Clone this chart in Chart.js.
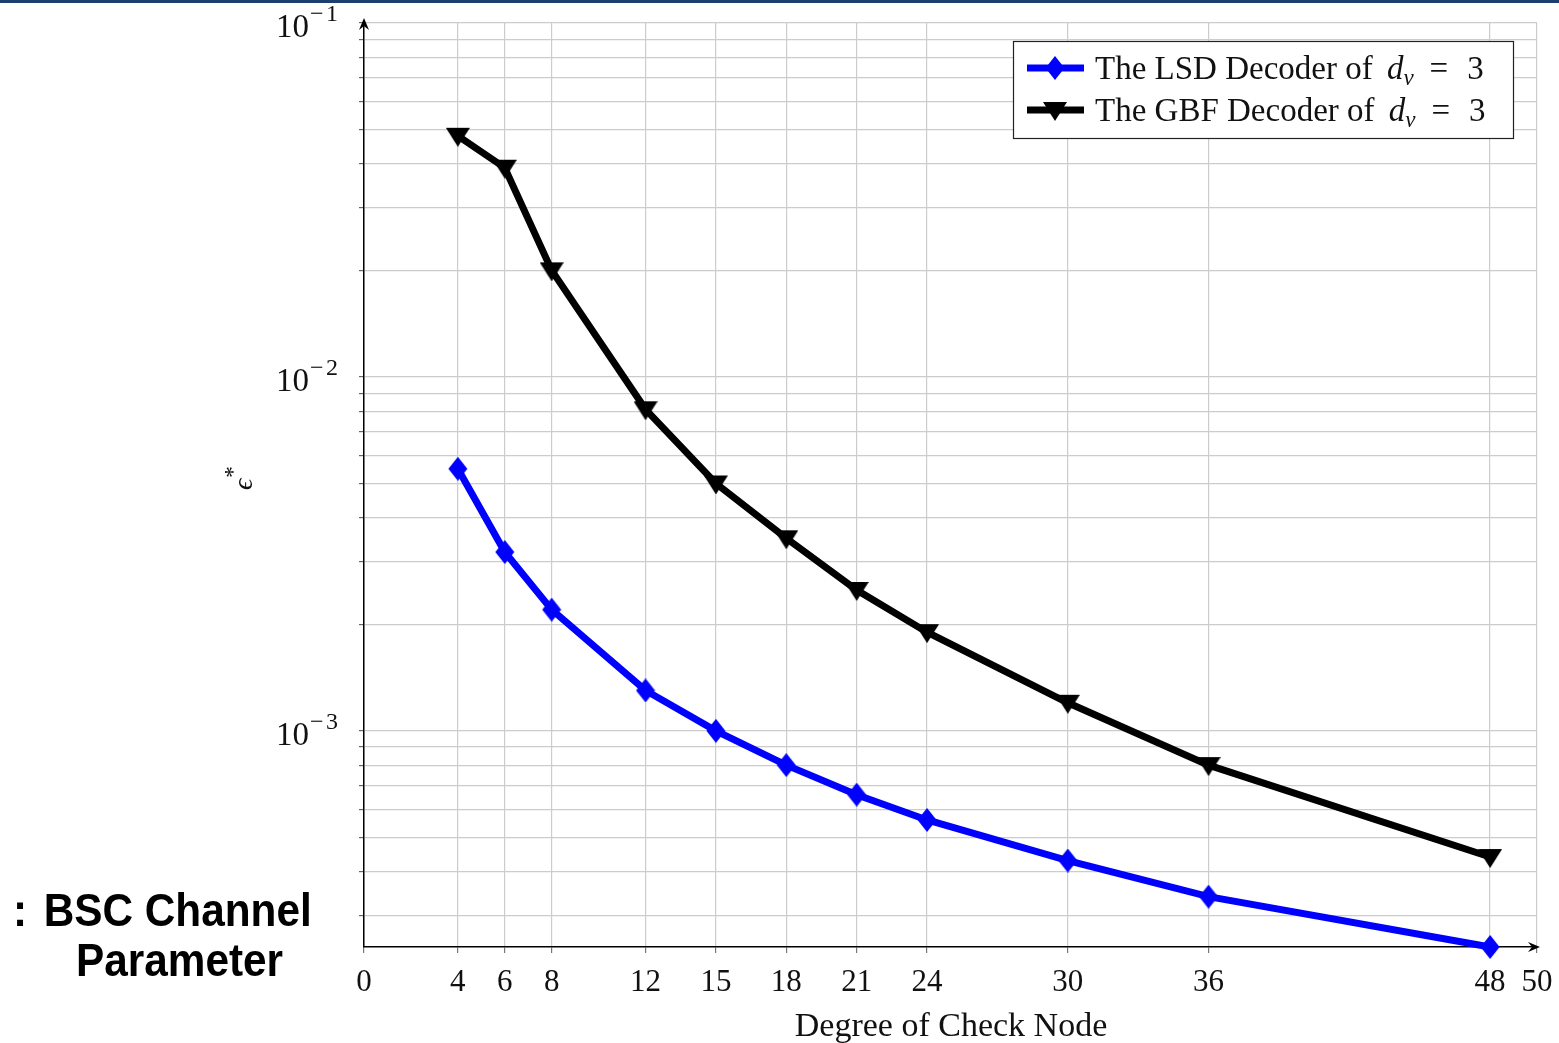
<!DOCTYPE html>
<html>
<head>
<meta charset="utf-8">
<script src="https://cdn.jsdelivr.net/npm/chart.js@4.4.1/dist/chart.umd.min.js"></script>
<style>
  html, body { margin: 0; padding: 0; background: #fff; }
  #wrap { position: relative; width: 1559px; height: 1043px; overflow: hidden; }
  #topbar { position: absolute; left: 0; top: 0; width: 1559px; height: 3px; background: #1d3e6e; }
  .note { position: absolute; font-family: "Liberation Sans", Arial, sans-serif; font-weight: bold;
          font-size: 46px; line-height: 52px; color: #000; white-space: nowrap;
          transform: scaleX(0.92); transform-origin: 0 0; }
  canvas { position: absolute; left: 0; top: 0; }
</style>
</head>
<body>
<div id="wrap">
  <canvas id="chart" width="1559" height="1043"></canvas>
  <div id="topbar"></div>
  <div class="note" style="left:13px; top:884px;"><span style="margin-right:18px">:</span>BSC Channel</div>
  <div class="note" style="left:76px; top:934px;">Parameter</div>
</div>
<script>
// 체크 노드 차수별 임계값 데이터
const degrees = [4, 6, 8, 12, 15, 18, 21, 24, 30, 36, 48];
const lsdValues = [5.5e-3, 3.2e-3, 2.2e-3, 1.3e-3, 1.0e-3, 8.0e-4, 6.6e-4, 5.6e-4, 4.3e-4, 3.4e-4, 2.45e-4];
const gbfValues = [4.8e-2, 3.9e-2, 2.0e-2, 8.1e-3, 5.0e-3, 3.5e-3, 2.5e-3, 1.9e-3, 1.2e-3, 8.0e-4, 4.4e-4];
const xTickValues = [0, 4, 6, 8, 12, 15, 18, 21, 24, 30, 36, 48, 50];
const yMajorExponents = [-1, -2, -3];
const seriesLabels = ['The LSD Decoder of ', 'The GBF Decoder of '];

const SERIF = '"Liberation Serif", "Times New Roman", serif';

// 마커 이미지 (세로로 긴 다이아몬드, 역삼각형)
function makeDiamond(color) {
    const c = document.createElement('canvas');
    c.width = 20; c.height = 24;
    const g = c.getContext('2d');
    g.fillStyle = color;
    g.beginPath();
    g.moveTo(10, 0); g.lineTo(19.5, 12); g.lineTo(10, 24); g.lineTo(0.5, 12);
    g.closePath(); g.fill();
    return c;
}
function makeTriangleDown(color) {
    const c = document.createElement('canvas');
    c.width = 24; c.height = 22;
    const g = c.getContext('2d');
    g.fillStyle = color;
    g.beginPath();
    g.moveTo(0, 3); g.lineTo(24, 3); g.lineTo(12, 22);
    g.closePath(); g.fill();
    return c;
}
const diamondImg = makeDiamond('#0000ff');
const triangleImg = makeTriangleDown('#000000');

// 축 눈금 라벨, 화살표, 범례를 직접 그리는 플러그인
const decorPlugin = {
    id: 'decor',
    afterDraw(chart) {
        const ctx = chart.ctx;
        const xs = chart.scales.x, ys = chart.scales.y;
        const area = chart.chartArea;
        ctx.save();

        // 화살표
        ctx.fillStyle = '#000';
        ctx.beginPath();
        ctx.moveTo(area.left, area.top - 5);
        ctx.lineTo(area.left - 5, area.top + 7);
        ctx.lineTo(area.left, area.top + 3);
        ctx.lineTo(area.left + 5, area.top + 7);
        ctx.closePath(); ctx.fill();
        ctx.beginPath();
        ctx.moveTo(area.right + 3, area.bottom);
        ctx.lineTo(area.right - 9, area.bottom - 5);
        ctx.lineTo(area.right - 5, area.bottom);
        ctx.lineTo(area.right - 9, area.bottom + 5);
        ctx.closePath(); ctx.fill();

        // x 눈금 라벨
        ctx.fillStyle = '#111';
        ctx.font = '31px ' + SERIF;
        ctx.textAlign = 'center';
        ctx.textBaseline = 'alphabetic';
        xTickValues.forEach(v => {
            ctx.fillText(String(v), xs.getPixelForValue(v), 991);
        });

        // x 축 제목
        ctx.font = '34px ' + SERIF;
        ctx.fillText('Degree of Check Node', 951, 1036);

        // y 눈금 라벨 (10^n)
        yMajorExponents.forEach(e => {
            const py = ys.getPixelForValue(Math.pow(10, e));
            ctx.font = '33px ' + SERIF;
            ctx.textAlign = 'right';
            ctx.fillText('10', 309, py + 14);
            ctx.font = '24px ' + SERIF;
            ctx.textAlign = 'left';
            ctx.fillText('\u2212', 310, py - 2);
            ctx.fillText(String(-e), 326, py - 2);
        });

        // y 축 제목 (ε*)
        ctx.save();
        ctx.translate(252, 482);
        ctx.rotate(-Math.PI / 2);
        ctx.textAlign = 'left';
        ctx.font = 'italic 28px ' + SERIF;
        ctx.fillText('\u03f5', -8, 0);
        ctx.font = '24px ' + SERIF;
        ctx.fillText('*', 4, -12);
        ctx.restore();

        // 범례
        const bx = 1013, by = 41, bw = 500, bh = 97;
        ctx.fillStyle = '#fff';
        ctx.fillRect(bx, by, bw, bh);
        ctx.strokeStyle = '#222';
        ctx.lineWidth = 1.2;
        ctx.strokeRect(bx + 0.5, by + 0.5, bw, bh);
        const rows = [
            { y: 68, color: '#0000ff', img: diamondImg, label: seriesLabels[0] },
            { y: 110, color: '#000000', img: triangleImg, label: seriesLabels[1] }
        ];
        rows.forEach(r => {
            ctx.strokeStyle = r.color;
            ctx.lineWidth = 7;
            ctx.beginPath();
            ctx.moveTo(1027, r.y); ctx.lineTo(1084, r.y);
            ctx.stroke();
            ctx.drawImage(r.img, 1055 - r.img.width / 2, r.y - r.img.height / 2);
            ctx.fillStyle = '#111';
            ctx.textAlign = 'left';
            ctx.font = '33px ' + SERIF;
            let tx = 1095;
            const base = r.y + 11;
            ctx.fillText(r.label, tx, base);
            tx += ctx.measureText(r.label).width + 6;
            ctx.font = 'italic 33px ' + SERIF;
            ctx.fillText('d', tx, base);
            tx += ctx.measureText('d').width;
            ctx.font = 'italic 23px ' + SERIF;
            ctx.fillText('v', tx, base + 6);
            tx += ctx.measureText('v').width + 16;
            ctx.font = '33px ' + SERIF;
            ctx.fillText('=', tx, base);
            tx += ctx.measureText('=').width + 19;
            ctx.fillText('3', tx, base);
        });

        ctx.restore();
    }
};

const ctx = document.getElementById('chart').getContext('2d');
const chart = new Chart(ctx, {
    type: 'line',
    data: {
        datasets: [
            {
                label: 'LSD',
                data: degrees.map((d, i) => ({ x: d, y: lsdValues[i] })),
                borderColor: '#0000ff',
                backgroundColor: '#0000ff',
                borderWidth: 7,
                pointStyle: diamondImg,
                pointRadius: 10,
                clip: false,
                tension: 0
            },
            {
                label: 'GBF',
                data: degrees.map((d, i) => ({ x: d, y: gbfValues[i] })),
                borderColor: '#000000',
                backgroundColor: '#000000',
                borderWidth: 7,
                pointStyle: triangleImg,
                pointRadius: 10,
                clip: false,
                tension: 0
            }
        ]
    },
    options: {
        responsive: false,
        animation: false,
        layout: { padding: { top: 23, right: 22, left: 0, bottom: 0 } },
        plugins: {
            legend: { display: false },
            tooltip: { enabled: false }
        },
        scales: {
            x: {
                type: 'linear',
                min: 0,
                max: 50,
                afterBuildTicks: scale => {
                    scale.ticks = xTickValues.map(v => ({ value: v }));
                },
                afterFit: scale => { scale.height = 96; },
                ticks: { display: false },
                grid: {
                    color: '#cccccc',
                    lineWidth: 1.2,
                    tickLength: 6,
                    tickColor: '#777'
                },
                border: { display: true, color: '#000', width: 1.5 }
            },
            y: {
                type: 'logarithmic',
                min: 2.45e-4,
                max: 0.1,
                afterBuildTicks: scale => {
                    const t = [];
                    for (let e = -4; e <= -1; e++) {
                        for (let m = 1; m <= 9; m++) {
                            const v = m * Math.pow(10, e);
                            if (v >= 2.45e-4 * 0.999 && v <= 0.1 * 1.001) t.push({ value: v, major: m === 1 });
                        }
                    }
                    scale.ticks = t;
                },
                afterFit: scale => { scale.width = 364; },
                ticks: { display: false },
                grid: {
                    color: '#cccccc',
                    lineWidth: 1.2,
                    tickLength: ctx => (ctx.tick && ctx.tick.major ? 9 : 5),
                    tickColor: '#666'
                },
                border: { display: true, color: '#000', width: 1.5 }
            }
        }
    },
    plugins: [decorPlugin]
});
</script>
</body>
</html>
